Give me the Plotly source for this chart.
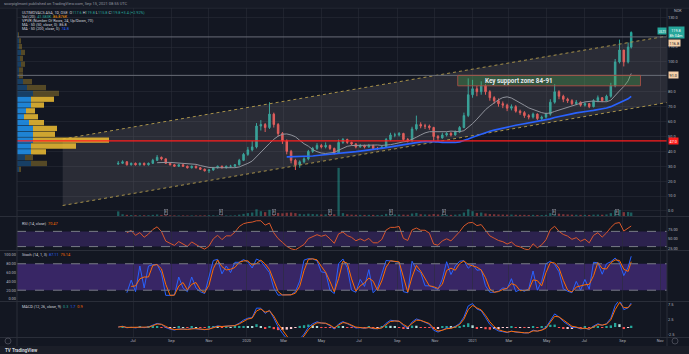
import plotly.graph_objects as go
import pandas as pd

W, H = 689, 354

# ---------------- data (weekly) ----------------
week_dates = pd.date_range("2019-06-07", periods=119, freq="7D").strftime("%Y-%m-%d").tolist() + ["2021-09-15"]

closes = [32.0, 33.0, 31.0, 32.0, 31.0, 32.0, 31.0, 32.0, 34.0, 36.0,
          35.0, 32.0, 31.0, 30.0, 31.0, 30.0, 29.0, 30.0, 29.0, 28.0,
          27.0, 27.5, 29.0, 30.0, 29.0, 30.0, 30.0, 31.0, 34.0, 38.0,
          41.0, 43.0, 57.0, 58.0, 56.0, 65.0, 58.0, 52.0, 47.0, 40.0,
          34.0, 31.0, 33.0, 35.0, 40.0, 42.0, 44.0, 43.0, 44.0, 42.0,
          39.0, 46.0, 48.0, 46.0, 45.0, 43.0, 44.0, 43.0, 44.0, 42.0,
          42.0, 43.0, 48.0, 51.0, 51.0, 52.0, 48.0, 47.0, 55.0, 58.0,
          57.0, 57.0, 56.0, 50.0, 49.0, 51.0, 52.0, 51.0, 53.0, 56.0,
          64.0, 78.0, 82.0, 80.0, 84.0, 80.0, 76.0, 74.0, 72.0, 71.0,
          69.0, 70.0, 67.0, 66.0, 64.0, 63.0, 65.0, 62.0, 63.0, 65.0,
          73.0, 80.0, 77.0, 75.0, 74.0, 72.0, 73.0, 71.0, 72.0, 70.0,
          74.0, 76.0, 74.0, 77.0, 84.0, 100.0, 108.0, 100.0, 110.0, 119.8]
highs = [33.5, 34.0, 33.5, 32.5, 32.5, 32.5, 32.5, 32.5, 35.0, 37.5,
         36.5, 35.0, 32.5, 31.5, 31.5, 31.5, 30.5, 30.5, 30.5, 29.5,
         28.5, 28.0, 29.5, 30.5, 30.5, 30.5, 31.0, 31.5, 35.0, 39.0,
         43.0, 47.0, 59.0, 61.0, 59.0, 73.0, 66.0, 59.0, 53.0, 48.0,
         41.0, 35.0, 34.0, 36.0, 41.0, 43.0, 45.5, 45.0, 46.0, 44.5,
         42.5, 48.0, 49.0, 48.5, 46.5, 45.5, 45.0, 44.5, 45.0, 44.5,
         43.0, 44.0, 49.0, 52.5, 52.5, 53.0, 52.5, 49.0, 56.5, 64.0,
         59.5, 58.5, 58.0, 56.5, 51.0, 52.5, 53.0, 53.0, 54.0, 57.0,
         66.0, 89.0, 88.0, 84.0, 87.0, 85.0, 81.0, 77.0, 75.5, 73.5,
         72.0, 71.5, 71.0, 68.0, 67.0, 65.0, 66.0, 65.5, 64.0, 66.0,
         75.0, 85.0, 81.0, 78.0, 76.0, 75.0, 74.5, 73.5, 73.0, 72.5,
         75.0, 77.5, 76.5, 78.0, 86.0, 102.0, 115.0, 108.0, 113.0, 120.5]
lows = [31.0, 31.5, 30.5, 30.5, 30.5, 30.5, 30.5, 30.5, 31.5, 33.5,
        34.0, 31.5, 30.5, 29.5, 29.5, 29.5, 28.5, 28.5, 28.5, 27.5,
        26.5, 25.5, 27.0, 28.5, 28.5, 28.5, 29.0, 29.5, 30.5, 33.5,
        37.0, 40.0, 42.0, 54.0, 53.0, 55.0, 56.0, 50.0, 45.0, 38.0,
        32.0, 27.5, 29.0, 32.0, 34.0, 39.0, 41.0, 42.0, 42.0, 41.0,
        38.0, 38.5, 45.0, 45.0, 44.0, 42.0, 42.5, 42.0, 42.5, 41.5,
        41.0, 41.5, 42.5, 47.0, 49.5, 50.0, 47.0, 46.0, 46.5, 54.0,
        55.5, 55.0, 54.5, 47.0, 46.5, 48.5, 50.0, 50.0, 50.5, 52.5,
        55.5, 63.0, 76.0, 77.0, 78.0, 78.0, 74.0, 72.0, 70.0, 69.0,
        67.0, 67.5, 66.0, 64.5, 62.5, 61.5, 62.0, 61.0, 61.0, 62.0,
        64.0, 72.0, 75.0, 73.0, 72.5, 71.0, 71.0, 70.0, 70.0, 69.0,
        69.5, 73.0, 73.0, 73.5, 76.0, 83.0, 99.0, 97.0, 99.0, 109.0]
first_open = 31.5
volume_k = [2400, 900, 600, 500, 450, 400, 380, 420, 600, 800,
            550, 450, 350, 320, 300, 310, 280, 300, 290, 320,
            350, 400, 380, 300, 280, 300, 290, 350, 700, 1100,
            1500, 1800, 3500, 2500, 2000, 3200, 2200, 1600, 1400, 1700,
            1800, 1500, 1100, 900, 1200, 1000, 900, 800, 850, 750,
            900, 25000, 1500, 900, 700, 650, 600, 580, 620, 600,
            550, 580, 1100, 1200, 800, 750, 700, 650, 1300, 1600,
            900, 800, 750, 1000, 800, 700, 650, 600, 700, 900,
            1800, 3500, 2500, 1600, 1800, 1300, 1000, 900, 800, 750,
            700, 750, 650, 600, 600, 550, 600, 550, 500, 600,
            1500, 2200, 1200, 900, 800, 700, 650, 600, 600, 550,
            700, 750, 650, 800, 1500, 3000, 3200, 2000, 2100, 1800]

# Volume profile (VPVR, 24 rows): row centre prices, up / down volume (K)
vp_price = [27.96, 31.9, 35.8, 39.7, 43.6, 47.6, 51.5, 55.4, 59.3, 63.2, 67.2, 71.1,
            75.0, 78.9, 82.8, 86.8, 90.7, 94.6, 98.5, 102.4, 106.4, 110.3, 114.2, 118.1]
vp_up = [2, 14, 8, 14, 14, 16, 16, 16, 12, 7, 9, 14, 14, 16, 10, 6, 2, 2, 4, 3, 4, 2, 2, 1]
vp_down = [2, 16, 8, 15, 45, 76, 22, 24, 15, 14, 9, 13, 23, 26, 19, 9, 4, 4, 4, 3, 4, 3, 2, 1]
vp_value_area = [False, False, False, True, True, True, True, True, True, True, True, True,
                 True, False, False, False, False, False, False, False, False, False, False, False]

# Drawings
channel_dates = ["2019-03-09", "2021-11-12"]
channel_top = [48.3, 117.4]
channel_bottom = [3.7, 72.8]
gray_levels = [116.8, 91.0]
red_level = 47.0
zone_dates = ["2020-12-08", "2021-09-30"]
zone_low, zone_high = 84.0, 91.0
zone_label = "Key support zone 84-91"
zone_label_date = "2021-01-18"
event_dates = ["2019-08-23", "2019-11-20", "2020-02-14", "2020-05-15",
               "2020-08-22", "2020-11-15", "2021-05-13", "2021-08-23"]

month_ticks = ["2019-07-01", "2019-09-01", "2019-11-01", "2020-01-01", "2020-03-01", "2020-05-01",
               "2020-07-01", "2020-09-01", "2020-11-01", "2021-01-01", "2021-03-01", "2021-05-01",
               "2021-07-01", "2021-09-01", "2021-11-01"]
month_labels = ["Jul", "Sep", "Nov", "2020", "Mar", "May", "Jul", "Sep", "Nov", "2021",
                "Mar", "May", "Jul", "Sep", "Nov"]
# 90 and 120 are hidden under price badges in the reference
price_ticks = [0, 10, 20, 30, 40, 50, 60, 70, 80, 100, 110, 130]

# ---------------- indicators ----------------
c = pd.Series(closes)
opens = [first_open] + closes[:-1]
ma50 = c.rolling(10).mean()
ma200 = c.rolling(40).mean()
delta = c.diff()
gain = delta.clip(lower=0).ewm(alpha=1 / 5, adjust=False).mean()
loss = (-delta.clip(upper=0)).ewm(alpha=1 / 5, adjust=False).mean()
rsi = (100 - 100 / (1 + gain / loss)).where(c.index >= 2)
hh = pd.Series(highs).rolling(3).max()
ll = pd.Series(lows).rolling(3).min()
st_k = 100 * (c - ll) / (hh - ll)
st_d = st_k.rolling(2).mean()
ema_f = c.ewm(span=2.4, adjust=False).mean()
ema_s = c.ewm(span=5.2, adjust=False).mean()
macd = ema_f - ema_s
sig = macd.ewm(span=1.8, adjust=False).mean()
hist = macd - sig

UP, DN = "#26a69a", "#ef5350"
BG = "#131722"
GRID = "rgba(42,46,57,0.55)"
TXT = "#b2b5be"

def py(px):  # pixel row -> paper fraction
    return 1 - px / H

def pxx(px):
    return px / W

XD = [pxx(17), pxx(667)]
D_MAIN = [py(216), py(8)]
D_RSI = [py(250), py(217)]
D_STO = [py(301), py(251)]
D_MACD = [py(337), py(302)]

fig = go.Figure()

# channel
fig.add_trace(go.Scatter(x=channel_dates + channel_dates[::-1] + [channel_dates[0]],
                         y=channel_top + channel_bottom[::-1] + [channel_top[0]],
                         fill="toself", fillcolor="rgba(150,145,150,0.18)", mode="lines",
                         line=dict(width=0), hoverinfo="skip", xaxis="x", yaxis="y"))
for yy in (channel_top, channel_bottom):
    fig.add_trace(go.Scatter(x=channel_dates, y=yy, mode="lines",
                             line=dict(color="#a8924a", width=1, dash="dot"), xaxis="x", yaxis="y"))

# volume
vol_cols = ["rgba(38,166,154,0.5)" if cl >= op else "rgba(239,83,80,0.5)" for op, cl in zip(opens, closes)]
fig.add_trace(go.Bar(x=week_dates, y=volume_k, marker=dict(color=vol_cols, line=dict(width=0)),
                     xaxis="x", yaxis="y2"))

# VPVR
up_cols = ["rgba(33,150,243,0.85)" if v else "rgba(33,150,243,0.32)" for v in vp_value_area]
dn_cols = ["rgba(240,190,50,0.85)" if v else "rgba(240,190,50,0.3)" for v in vp_value_area]
fig.add_trace(go.Bar(y=vp_price, x=vp_up, orientation="h", width=3.55,
                     marker=dict(color=up_cols, line=dict(width=0)), xaxis="x2", yaxis="y"))
fig.add_trace(go.Bar(y=vp_price, x=vp_down, base=vp_up, orientation="h", width=3.55,
                     marker=dict(color=dn_cols, line=dict(width=0)), xaxis="x2", yaxis="y"))

# MAs
fig.add_trace(go.Scatter(x=week_dates, y=ma50, mode="lines", line=dict(color="#8f929b", width=1),
                         xaxis="x", yaxis="y"))
fig.add_trace(go.Scatter(x=week_dates, y=ma200, mode="lines", line=dict(color="#2962ff", width=1.7),
                         xaxis="x", yaxis="y"))

# candles
fig.add_trace(go.Candlestick(x=week_dates, open=opens, high=highs, low=lows, close=closes,
                             increasing=dict(line=dict(color=UP, width=1), fillcolor=UP),
                             decreasing=dict(line=dict(color=DN, width=1), fillcolor=DN),
                             whiskerwidth=0, xaxis="x", yaxis="y"))

# RSI
fig.add_trace(go.Scatter(x=week_dates, y=rsi, mode="lines", line=dict(color="#d9572a", width=1),
                         xaxis="x", yaxis="y3"))
# Stoch
fig.add_trace(go.Scatter(x=week_dates, y=st_k, mode="lines", line=dict(color="#2962ff", width=1),
                         xaxis="x", yaxis="y4"))
fig.add_trace(go.Scatter(x=week_dates, y=st_d, mode="lines", line=dict(color="#ff6d00", width=1),
                         xaxis="x", yaxis="y4"))
# MACD
hcols = []
for i, hv in enumerate(hist):
    prev = hist[i - 1] if i > 0 else 0
    if hv >= 0:
        hcols.append("#26a69a" if hv >= prev else "#b2dfdb")
    else:
        hcols.append("#ff5252" if hv <= prev else "#ffcdd2")
fig.add_trace(go.Bar(x=week_dates, y=hist, marker=dict(color=hcols, line=dict(width=0)),
                     xaxis="x", yaxis="y5"))
fig.add_trace(go.Scatter(x=week_dates, y=macd, mode="lines", line=dict(color="#2962ff", width=1),
                         xaxis="x", yaxis="y5"))
fig.add_trace(go.Scatter(x=week_dates, y=sig, mode="lines", line=dict(color="#ff6d00", width=1),
                         xaxis="x", yaxis="y5"))

shapes = []
for lv in gray_levels:
    shapes.append(dict(type="line", xref="paper", yref="y", x0=XD[0], x1=XD[1], y0=lv, y1=lv,
                       line=dict(color="#6a6d78", width=1)))
shapes.append(dict(type="line", xref="paper", yref="y", x0=XD[0], x1=XD[1], y0=red_level, y1=red_level,
                   line=dict(color="#ff1e1e", width=1.3)))
shapes.append(dict(type="rect", xref="x", yref="y", x0=zone_dates[0], x1=zone_dates[1], y0=zone_low,
                   y1=zone_high, fillcolor="rgba(76,175,80,0.32)", line=dict(color="rgba(170,80,70,0.9)", width=1)))
shapes.append(dict(type="rect", xref="paper", yref="y3", x0=XD[0], x1=XD[1], y0=30, y1=70,
                   fillcolor="rgba(103,58,183,0.30)", line=dict(width=0), layer="below"))
for lv in (30, 70):
    shapes.append(dict(type="line", xref="paper", yref="y3", x0=XD[0], x1=XD[1], y0=lv, y1=lv,
                       line=dict(color="#787b86", width=1, dash="dash")))
shapes.append(dict(type="rect", xref="paper", yref="y4", x0=XD[0], x1=XD[1], y0=20, y1=80,
                   fillcolor="rgba(103,58,183,0.45)", line=dict(width=0), layer="below"))
for lv in (20, 80):
    shapes.append(dict(type="line", xref="paper", yref="y4", x0=XD[0], x1=XD[1], y0=lv, y1=lv,
                       line=dict(color="#787b86", width=1, dash="dash")))
for ypx in (8, 216.5, 250.5, 301.5, 337.5):
    shapes.append(dict(type="line", xref="paper", yref="paper", x0=0, x1=1, y0=py(ypx), y1=py(ypx),
                       line=dict(color="#2a2e39", width=1)))
for xpx in (17, 667):
    shapes.append(dict(type="line", xref="paper", yref="paper", x0=pxx(xpx), x1=pxx(xpx), y0=py(346),
                       y1=py(8), line=dict(color="#2a2e39", width=1)))
shapes.append(dict(type="rect", xref="paper", yref="paper", x0=0, x1=1, y0=py(7.5), y1=1,
                   fillcolor="#171b26", line=dict(width=0)))
shapes.append(dict(type="rect", xref="paper", yref="paper", x0=0, x1=1, y0=0, y1=py(346),
                   fillcolor="#1b1e28", line=dict(width=0)))
for cx in (8, 675):
    shapes.append(dict(type="circle", xref="paper", yref="paper", x0=pxx(cx - 3), x1=pxx(cx + 3),
                       y0=py(344), y1=py(338), line=dict(color="#50535e", width=0.8)))

ann = []
def A(x, y, text, size=4, color=TXT, xa="left", **kw):
    d = dict(xref="paper", yref="paper", x=x, y=y, text=text, showarrow=False, xanchor=xa,
             yanchor="middle", font=dict(size=size, color=color, family="Roboto"))
    d.update(kw)
    ann.append(d)

A(pxx(2), py(3.8), "scorpiglmont published on TradingView.com, Sep 15, 2021 08:55 UTC", 4, "#9598a1")
A(pxx(20), py(12.5), "ULTIMOVACS ASA, 1D, OSE  O<span style='color:#26a69a'>117.6</span> H<span style='color:#26a69a'>119.8</span>"
  " L<span style='color:#26a69a'>115.8</span> C<span style='color:#26a69a'>119.8 +3.4 (+2.92%)</span>", 3.8, "#d1d4dc")
A(pxx(20), py(16.6), "Vol (20)  <span style='color:#26a69a'>41.583K</span>  <span style='color:#ff9800'>86.876K</span>", 3.8, "#d1d4dc")
A(pxx(20), py(20.6), "VPVR (Number Of Rows, 24, Up/Down, 70)", 3.8, "#d1d4dc")
A(pxx(20), py(24.8), "MA · 50 (50, close, 0)  <span style='color:#d1d4dc'>86.8</span>", 3.8, "#d1d4dc")
A(pxx(20), py(29), "MA · 50 (200, close, 0)  <span style='color:#2962ff'>74.8</span>", 3.8, "#d1d4dc")
A(pxx(20), py(223), "RSI (14, close)  <span style='color:#ff6d00'>70.47</span>", 3.8, "#d1d4dc")
A(pxx(20), py(254.5), "Stoch (14, 1, 3)  <span style='color:#2962ff'>87.11</span>  <span style='color:#ff6d00'>75.14</span>", 3.8, "#d1d4dc")
A(pxx(20), py(306.5), "MACD (12, 26, close, 9)  <span style='color:#26a69a'>0.3</span>  <span style='color:#2962ff'>1.7</span>  <span style='color:#ff6d00'>0.9</span>", 3.8, "#d1d4dc")
A(pxx(672), py(10.5), "NOK", 3.8, TXT)
A(pxx(3), py(350), "<b>TV</b> <b>TradingView</b>", 4.5, "#d1d4dc")

def badge(yv, text, bg, fg, yref="y", xpx=668):
    ann.append(dict(xref="paper", yref=yref, x=pxx(xpx), y=yv, text=text, showarrow=False,
                    xanchor="left", yanchor="middle", bgcolor=bg, borderpad=0.6,
                    font=dict(size=3.8, color=fg, family="Roboto")))
badge(closes[-1], "119.8<br>8h 04m", "#26a69a", "#ffffff")
ann.append(dict(xref="paper", yref="y", x=pxx(667), y=closes[-1] + 1, text="ULTI", showarrow=False,
                xanchor="right", yanchor="middle", bgcolor="#26a69a", borderpad=0.6,
                font=dict(size=3.8, color="#ffffff", family="Roboto")))
badge(112.4, "116.8", "#f5d0a9", "#131722")
badge(gray_levels[1], "91.0", "#f5d0a9", "#131722")
badge(red_level, "47.0", "#ff1e1e", "#ffffff")

ann.append(dict(xref="x", yref="y", x=zone_label_date, y=(zone_low + zone_high) / 2, text="<b>" + zone_label + "</b>",
                showarrow=False, xanchor="left", yanchor="middle",
                font=dict(size=6.3, color="#e8eaf0", family="Roboto")))
for ed in event_dates:
    ann.append(dict(xref="x", yref="y", x=ed, y=-1.0, text="E", showarrow=False, xanchor="center",
                    yanchor="middle", bgcolor=BG, bordercolor="#787b86", borderwidth=0.6, borderpad=0.4,
                    font=dict(size=3.2, color="#b2b5be", family="Roboto")))

axfont = dict(size=3.9, color=TXT, family="Roboto")
fig.update_layout(
    width=W, height=H, margin=dict(l=0, r=0, t=0, b=0),
    paper_bgcolor=BG, plot_bgcolor=BG, showlegend=False, barmode="overlay", bargap=0.25,
    shapes=shapes, annotations=ann,
    xaxis=dict(domain=XD, anchor="y5", type="date", range=["2018-12-25", "2021-11-12"],
               tickmode="array", tickvals=month_ticks, ticktext=month_labels, tickfont=axfont,
               showgrid=True, gridcolor=GRID, gridwidth=1, zeroline=False, showline=False, ticks="",
               rangeslider=dict(visible=False), fixedrange=True),
    xaxis2=dict(overlaying="x", anchor="y", range=[0, 650], visible=False),
    yaxis=dict(domain=D_MAIN, anchor="x", side="right", range=[-3.36, 136.2], tickmode="array",
               tickvals=price_ticks, ticktext=[f"{t:.1f}" for t in price_ticks], tickfont=axfont,
               showgrid=True, gridcolor=GRID, zeroline=False, ticks="", showline=False),
    yaxis2=dict(overlaying="y", anchor="x", range=[0, 108000], visible=False),
    yaxis3=dict(domain=D_RSI, anchor="x", side="right", range=[21, 107.9], tickmode="array",
                tickvals=[25, 50, 75], ticktext=["25.00", "50.00", "75.00"], tickfont=axfont,
                showgrid=False, zeroline=False, ticks=""),
    yaxis4=dict(domain=D_STO, anchor="x", side="left", range=[-4.5, 109], tickmode="array",
                tickvals=[0, 20, 40, 60, 80, 100], ticktext=["0.00", "20.00", "40.00", "60.00", "80.00", "100.00"],
                tickfont=axfont, showgrid=False, zeroline=False, ticks=""),
    yaxis5=dict(domain=D_MACD, anchor="x", side="right", range=[-3.3, 8.3], tickmode="array",
                tickvals=[-2.5, 2.5, 7.5], ticktext=["-2.5", "2.5", "7.5"], tickfont=axfont,
                showgrid=False, zeroline=False, ticks=""),
)

fig.write_html("out.html")
